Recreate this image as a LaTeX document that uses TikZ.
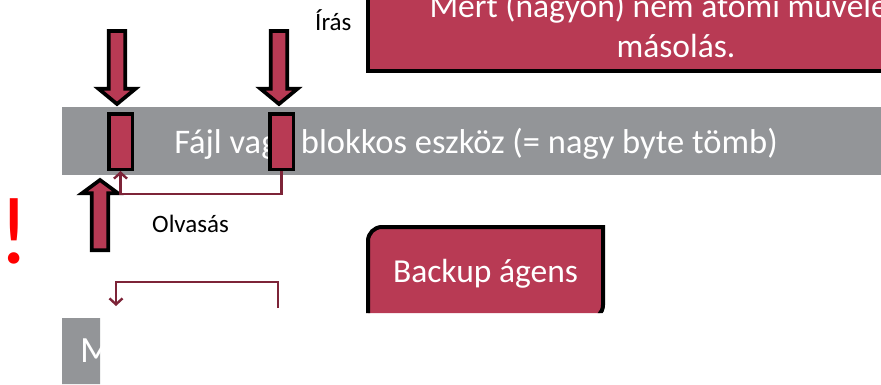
\documentclass[tikz,border=0pt]{standalone}
\usepackage{fontspec}
\setmainfont{Carlito}
\usetikzlibrary{arrows.meta}
\definecolor{crimson}{RGB}{184,58,84}
\definecolor{bargray}{RGB}{147,149,152}
\definecolor{linkred}{RGB}{125,36,56}
\begin{document}
\begin{tikzpicture}[x=1pt,y=-1pt,
  slot/.style={draw=black, line width=3.5pt, fill=crimson, minimum width=23.5pt,
    minimum height=55.5pt, inner sep=0pt},
  blockarrow/.style={draw=black, line width=3.7pt, fill=crimson, line join=miter},
  link/.style={draw=linkred, line width=2.4pt, -{Straight Barb[length=6pt,width=13pt]}},
  lbl/.style={font=\fontsize{25}{28}\selectfont, inner sep=0pt, anchor=base west},
  bigtext/.style={text=white, font=\fontsize{33.5}{40}\selectfont},
  crimsonbox/.style={draw=black, line width=4pt, fill=crimson}
]
\useasboundingbox (0,0) rectangle (881,384);
\begin{scope}
\clip (0,0) rectangle (881,384);

% note box at the top right
\node[crimsonbox, bigtext, anchor=base, minimum width=616pt, inner ysep=0pt,
  text height=120pt, text depth=14pt] (note) at (676,57)
  {\setlength{\tabcolsep}{0pt}\begin{tabular}[b]{c}Mert (nagyon) nem atomi művelet a\\másolás.\end{tabular}};

% the file / block device strip
\node[fill=bargray, text=white, font=\fontsize{34.5}{40}\selectfont, anchor=base,
  minimum width=828pt, inner ysep=0pt, text height=46pt, text depth=22pt] (dev) at (476,153)
  {Fájl vagy blokkos eszköz (= nagy byte tömb)};

% two blocks inside the device
\node[slot] (r1) at (120.5,141.5) {};
\node[slot] (r2) at (281.5,141.5) {};

% write arrows
\draw[blockarrow] (108.75,31) -- (125.25,31) -- (125.25,88.75) -- (135.5,88.75)
  -- (117,104) -- (98.5,88.75) -- (108.75,88.75) -- cycle;
\draw[blockarrow] (270.75,31) -- (287.25,31) -- (287.25,88.75) -- (297.5,88.75)
  -- (279,104) -- (260.5,88.75) -- (270.75,88.75) -- cycle;
% read arrow
\draw[blockarrow] (91.75,250.25) -- (108.25,250.25) -- (108.25,193.25) -- (118,193.25)
  -- (100,180) -- (82,193.25) -- (91.75,193.25) -- cycle;

% copy inside the device
\draw[link] (r2.south) -- ++(0,23) -| (r1.south);

% copy towards the lower box
\coordinate (c2a) at (278,308);
\coordinate (c2top) at (200,282);
\coordinate (c2b) at (116,306);
\draw[link] (c2a) |- (c2top) -| (c2b);

% labels
\node[lbl] (iras) at (315,30) {Írás};
\node[lbl] (olv) at (152,232.5) {Olvasás};
\node[text=red, font=\fontsize{96}{100}\selectfont, anchor=base, inner sep=0pt] (excl) at (14,263) {!};

% lower part, partly hidden
\begin{scope}
\clip (0,0) -- (881,0) -- (881,313) -- (100,313) -- (100,384) -- (0,384) -- cycle;
\node[bigtext, anchor=base, inner sep=0pt, minimum width=235pt,
  text height=55pt, text depth=37pt] (agent) at (485.5,282) {};
\fill[crimson] (368,330) -- (368,241) arc[start angle=180, end angle=270, radius=14]
  -- (603,227) -- (603,305) arc[start angle=0, end angle=90, radius=14] -- (368,319) -- cycle;
\draw[black, line width=4pt] (368,330) -- (368,241) arc[start angle=180, end angle=270, radius=14]
  -- (603,227) -- (603,305) arc[start angle=0, end angle=90, radius=14];
\node[bigtext, anchor=base, inner sep=0pt] (agentlabel) at (agent.base) {Backup ágens};
\node[fill=bargray, text=white, font=\fontsize{37}{40}\selectfont, anchor=base west,
  inner ysep=0pt, inner xsep=18pt, text width=164pt, align=left,
  text height=44pt, text depth=26pt] (mbox) at (62,362) {M};
\end{scope}
\end{scope}
\end{tikzpicture}
\end{document}
